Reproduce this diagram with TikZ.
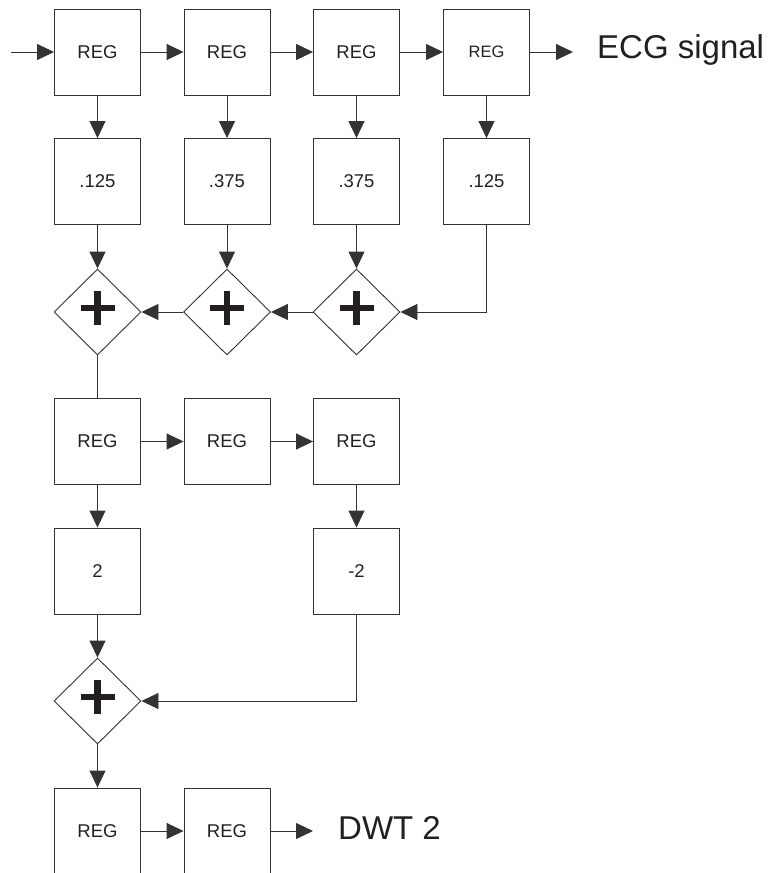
\documentclass[tikz,border=0pt]{standalone}
\usepackage{fontspec}
\setmainfont{Liberation Sans}
\usetikzlibrary{shapes.geometric,arrows.meta}
\definecolor{ln}{HTML}{333333}
\definecolor{tx}{HTML}{231F20}
\begin{document}
\begin{tikzpicture}[x=1pt,y=-1pt,
  box/.style={draw=ln,line width=0.9pt,rectangle,minimum width=86pt,minimum height=86pt,inner sep=0pt,text=tx,font=\fontsize{18.5}{18.5}\selectfont},
  sumnode/.style={draw=ln,line width=0.9pt,diamond,aspect=1,minimum width=87pt,minimum height=86pt,inner sep=0pt},
  conn/.style={draw=ln,line width=0.9pt},
  arr/.style={conn,-{Triangle[length=17pt,width=16pt]}},
  big/.style={text=tx,font=\fontsize{33}{33}\selectfont,inner sep=0pt,anchor=west},
  plusbar/.style={draw=tx,line width=6.5pt}]
\useasboundingbox (0,0) rectangle (769,873);
\clip (0,0) rectangle (769,873);
% row 1
\node[box] (r1) at (97.5,52) {REG};
\node[box] (r2) at (227,52) {REG};
\node[box] (r3) at (356.5,52) {REG};
\node[box,font=\fontsize{16.5}{16.5}\selectfont] (r4) at (486.5,52) {REG};
\coordinate (in) at (11,52);
\coordinate (out1) at (573,52);
\node[big] (ecg) at (597,50) {ECG signal};
% row 2
\node[box] (m1) at (97.5,181.5) {.125};
\node[box] (m2) at (227,181.5) {.375};
\node[box] (m3) at (356.5,181.5) {.375};
\node[box] (m4) at (486.5,181.5) {.125};
% adders
\node[sumnode] (d1) at (97.5,312) {};
\node[sumnode] (d2) at (227,312) {};
\node[sumnode] (d3) at (356.5,312) {};
% row 3
\node[box] (s1) at (97.5,441.5) {REG};
\node[box] (s2) at (227,441.5) {REG};
\node[box] (s3) at (356.5,441.5) {REG};
% row 4
\node[box] (k1) at (97.5,571) {2};
\node[box] (k3) at (356.5,571) {-2};
\node[sumnode] (d4) at (97.5,701) {};
% row 5
\node[box] (f1) at (97.5,831) {REG};
\node[box] (f2) at (227,831) {REG};
\coordinate (out2) at (313,831);
\node[big] (dwt) at (338,828) {DWT 2};
% plus signs
\foreach \n in {d1,d2,d3,d4}{
  \draw[plusbar] ([yshift=4pt]\n.center) ++(-17,0) -- ++(34,0);
  \draw[plusbar] ([yshift=4pt]\n.center) ++(0,-17) -- ++(0,34);
}
% connectors
\draw[arr] (in) -- (r1.west);
\draw[arr] (r1) -- (r2);
\draw[arr] (r2) -- (r3);
\draw[arr] (r3) -- (r4);
\draw[arr] (r4.east) -- (out1);
\foreach \i in {1,2,3,4}{\draw[arr] (r\i) -- (m\i);}
\draw[arr] (m1) -- (d1);
\draw[arr] (m2) -- (d2);
\draw[arr] (m3) -- (d3);
\draw[arr] (m4.south) |- (d3.east);
\draw[arr] (d3) -- (d2);
\draw[arr] (d2) -- (d1);
\draw[conn] (d1.south) -- (s1.north);
\draw[arr] (s1) -- (s2);
\draw[arr] (s2) -- (s3);
\draw[arr] (s1) -- (k1);
\draw[arr] (s3) -- (k3);
\draw[arr] (k1) -- (d4);
\draw[arr] (k3.south) |- (d4.east);
\draw[arr] (d4) -- (f1);
\draw[arr] (f1) -- (f2);
\draw[arr] (f2.east) -- (out2);
\end{tikzpicture}
\end{document}
